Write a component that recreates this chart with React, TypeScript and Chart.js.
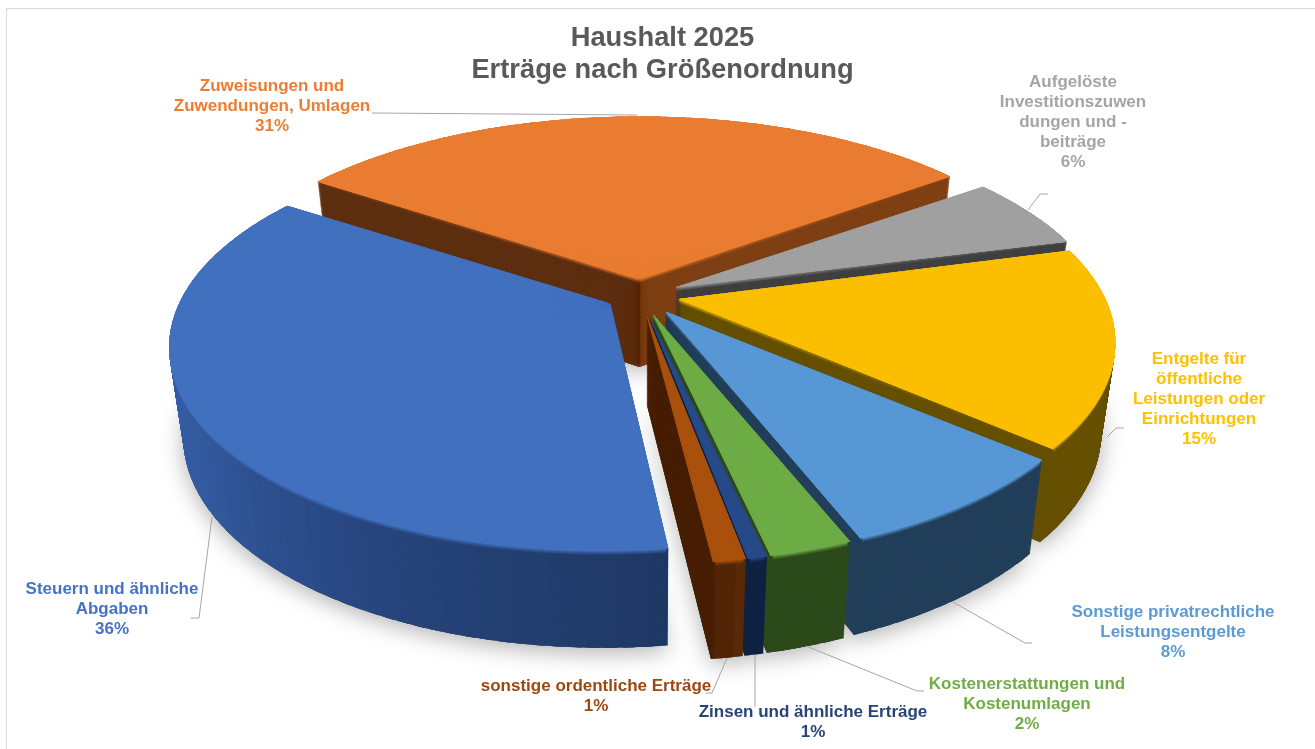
import React, { useEffect, useRef } from "react";
import { Chart, registerables } from "chart.js";

Chart.register(...registerables);

const titleLines = ["Haushalt 2025", "Erträge nach Größenordnung"];
const categories = [
  "Steuern und ähnliche Abgaben",
  "Zuweisungen und Zuwendungen, Umlagen",
  "Aufgelöste Investitionszuwendungen und -beiträge",
  "Entgelte für öffentliche Leistungen oder Einrichtungen",
  "Sonstige privatrechtliche Leistungsentgelte",
  "Kostenerstattungen und Kostenumlagen",
  "Zinsen und ähnliche Erträge",
  "sonstige ordentliche Erträge",
];
const values = [36.14, 30.95, 5.81, 15.44, 7.61, 2.49, 0.58, 0.97];
const labelLines = [
  ["Steuern und ähnliche", "Abgaben"],
  ["Zuweisungen und", "Zuwendungen, Umlagen"],
  ["Aufgelöste", "Investitionszuwen", "dungen und -", "beiträge"],
  ["Entgelte für", "öffentliche", "Leistungen oder", "Einrichtungen"],
  ["Sonstige privatrechtliche", "Leistungsentgelte"],
  ["Kostenerstattungen und", "Kostenumlagen"],
  ["Zinsen und ähnliche Erträge"],
  ["sonstige ordentliche Erträge"],
];

// Styles and layout (not data)
const topColors = ["#4170bf", "#e97c30", "#a0a0a0", "#fbbe00", "#5897d5", "#6dab45", "#264a87", "#a8500c"];
const textColors = ["#4472c4", "#ed7d31", "#a5a5a5", "#ffc000", "#5b9bd5", "#70ad47", "#264478", "#9e480e"];
const sideStops = [
  ["#1f3864", "#28467e", "#335a9f", "#3864ae", "#3864ae"],
  ["#5e2f11", "#5e2f11", "#6e3813", "#7f4115"],
  ["#404040", "#404040"],
  ["#665000", "#665000"],
  ["#223f5a", "#223f5a"],
  ["#2c4a1b", "#2c4a1b"],
  ["#0f2243", "#0f2243"],
  ["#5a2a08", "#5a2a08", "#451e04"],
];
const explosion = [0.08, 0.1, 0.08, 0.07, 0.07, 0.07, 0.07, 0.07];
const radial = [0.985, 1, 1, 1, 1, 1, 1, 1];
const hubShift = [0, -0.02, 0.01, 0.02, 0.03, 0.03, 0.03, 0.03];
const paintOrder = [1, 2, 3, 0, 4, 5, 6, 7];
const labelPos = [
  { x: 112, y: 589.5 },
  { x: 272, y: 86.5 },
  { x: 1073, y: 82.5 },
  { x: 1199, y: 359.5 },
  { x: 1173, y: 612.5 },
  { x: 1027, y: 684.5 },
  { x: 813, y: 712.5 },
  { x: 596, y: 686.5 },
];
const leaders = [
  [[212, 517], [199, 618], [191, 618]],
  [[372, 113], [637, 115]],
  [[1028, 210], [1040, 194], [1048, 194]],
  [[1107, 437], [1116, 428], [1124, 428]],
  [[953, 602], [1025, 643], [1032, 643]],
  [[806, 646], [917, 691], [924, 691]],
  [[755, 655], [755, 707]],
  [[727, 658], [712, 693], [706, 693]],
];

const OX = 5;
const CAM = { cx: 640, cy: 295, sx: 434, sy: 198, p: 0.2 };
const EXT = { vx: 642, sx: 0.03, a: 78, b: 0.034 };
const LAYERS = 100;
const STEP = (2 * Math.PI) / 180;
const CUT = (0.25 * Math.PI) / 180;
const OVERLAP = 0.012;

const project = (u: number, v: number) => {
  const w = 1 - CAM.p * v;
  return [CAM.cx + (CAM.sx * u) / w, CAM.cy + (CAM.sy * v) / w];
};
const extrude = (pt: number[], t: number) => [
  EXT.vx + (pt[0] - EXT.vx) * (1 - EXT.sx * t),
  pt[1] + t * (EXT.a + EXT.b * pt[1]),
];
const hex = (c: string) => [1, 3, 5].map((i) => parseInt(c.slice(i, i + 2), 16));
const mix = (a: number[], b: number[], f: number) => {
  const g = Math.min(1, Math.max(0, f));
  return a.map((x, k) => x + (b[k] - x) * g);
};
const ramp = (stops: string[], f: number) => {
  const pos = Math.min(0.9999, Math.max(0, f)) * (stops.length - 1);
  const i = Math.floor(pos);
  return mix(hex(stops[i]), hex(stops[i + 1]), pos - i);
};
const css = (c: number[]) => `rgb(${Math.round(c[0])},${Math.round(c[1])},${Math.round(c[2])})`;

function buildWedges(el: any, index: number) {
  const s = el.startAngle;
  const e = el.endAngle;
  const mid = (s + e) / 2;
  const ex = explosion[index];
  const rho = radial[index];
  const ou = ex * Math.cos(mid);
  const ov = ex * Math.sin(mid);
  const hub = ex + hubShift[index];
  const apex = project(hub * Math.cos(mid), hub * Math.sin(mid));
  const a = s + CUT;
  const b = e - CUT;
  const n = Math.max(1, Math.ceil((b - a) / STEP));
  const stops = [s];
  for (let k = 0; k <= n; k++) stops.push(a + ((b - a) * k) / n);
  stops.push(e);
  const out: any[] = [];
  for (let k = 0; k < stops.length - 1; k++) {
    const t0 = stops[k];
    const t1 = stops[k + 1];
    const p0 = project(ou + rho * Math.cos(t0), ov + rho * Math.sin(t0));
    const p1 = project(ou + rho * Math.cos(t1), ov + rho * Math.sin(t1));
    out.push({
      k,
      n: stops.length - 1,
      s,
      e,
      t0,
      t1,
      apex,
      p0,
      p1,
      f: ((t0 + t1) / 2 - s) / (e - s),
      sortY: (p0[1] + p1[1]) / 2,
    });
  }
  out.sort((x, y) => x.sortY - y.sortY);
  return out;
}

function drawWedge(ctx: any, el: any, w: any, t: number, color: string) {
  const r = el.outerRadius;
  const A = extrude(w.apex, t);
  const Q0 = extrude(w.p0, t);
  const Q1 = extrude(w.p1, t);
  const d0 = [r * Math.cos(w.t0), r * Math.sin(w.t0)];
  const d1 = [r * Math.cos(w.t1), r * Math.sin(w.t1)];
  const q0 = [Q0[0] - A[0], Q0[1] - A[1]];
  const q1 = [Q1[0] - A[0], Q1[1] - A[1]];
  const det = d0[0] * d1[1] - d1[0] * d0[1];
  const a = (q0[0] * d1[1] - q1[0] * d0[1]) / det;
  const c = (-q0[0] * d1[0] + q1[0] * d0[0]) / det;
  const b = (q0[1] * d1[1] - q1[1] * d0[1]) / det;
  const dd = (-q0[1] * d1[0] + q1[1] * d0[0]) / det;
  ctx.save();
  ctx.transform(a, b, c, dd, A[0] - a * el.x - c * el.y, A[1] - b * el.x - dd * el.y);
  const isEnd = w.k === 0 || w.k === w.n - 1;
  el.startAngle = isEnd ? w.t0 : Math.max(w.s + CUT, w.t0 - OVERLAP);
  el.endAngle = isEnd ? w.t1 : Math.min(w.e - CUT, w.t1 + OVERLAP);
  el.circumference = el.endAngle - el.startAngle;
  el.options = {
    backgroundColor: color,
    borderColor: "transparent",
    borderWidth: 0,
    offset: 0,
    spacing: 0,
    borderRadius: 0,
    circular: true,
    borderAlign: "center",
  };
  el.draw(ctx);
  ctx.restore();
}

const pie3d = {
  id: "pie3d",
  beforeDatasetDraw(chart: any) {
    const ctx = chart.ctx;
    const arcs = chart.getDatasetMeta(0).data;
    const saved = arcs.map((el: any) => ({
      startAngle: el.startAngle,
      endAngle: el.endAngle,
      circumference: el.circumference,
      options: el.options,
    }));
    const wedges = arcs.map((el: any, i: number) => buildWedges(el, i));

    const off = document.createElement("canvas");
    off.width = 1315;
    off.height = 749;
    const octx = off.getContext("2d");
    paintOrder.forEach((i) => {
      wedges[i].forEach((w: any) => drawWedge(octx, arcs[i], w, 1, "#555555"));
    });
    ctx.save();
    ctx.translate(-OX, 0);
    ctx.shadowColor = "rgba(0,0,0,0.3)";
    ctx.shadowBlur = 22;
    ctx.shadowOffsetY = 5;
    ctx.drawImage(off, 0, 0);
    ctx.restore();

    ctx.save();
    ctx.translate(-OX, 0);
    paintOrder.forEach((i) => {
      const el = arcs[i];
      const top = hex(topColors[i]);
      wedges[i].forEach((w: any) => {
        const side = ramp(sideStops[i], w.f);
        const isCut = w.k === 0 || w.k === w.n - 1;
        const rim = i === 0 ? mix(top, hex("#4a7cd8"), (w.f - 0.3) / 0.3) : top;
        for (let l = LAYERS; l >= 1; l--) {
          const t = l / LAYERS;
          const color = t < 0.05 && !isCut ? mix(rim, side, t / 0.05) : side;
          drawWedge(ctx, el, w, t, css(color));
        }
      });
      for (let pass = 0; pass < 3; pass++) {
        wedges[i].forEach((w: any) => drawWedge(ctx, el, w, 0, topColors[i]));
      }
    });
    ctx.restore();

    arcs.forEach((el: any, i: number) => Object.assign(el, saved[i]));
    return false;
  },
  afterDraw(chart: any) {
    const ctx = chart.ctx;
    ctx.save();
    ctx.translate(-OX, 0);
    ctx.strokeStyle = "#d9d9d9";
    ctx.lineWidth = 1;
    ctx.strokeRect(6.5, 8.5, 1400, 800);
    ctx.strokeStyle = "#a6a6a6";
    leaders.forEach((line) => {
      ctx.beginPath();
      line.forEach((p, k) => (k ? ctx.lineTo(p[0], p[1]) : ctx.moveTo(p[0], p[1])));
      ctx.stroke();
    });
    ctx.textAlign = "center";
    ctx.textBaseline = "middle";
    ctx.font = 'bold 17px "Liberation Sans"';
    labelLines.forEach((lines, i) => {
      ctx.fillStyle = textColors[i];
      const all = [...lines, `${Math.round(values[i])}%`];
      all.forEach((txt, k) => ctx.fillText(txt, labelPos[i].x, labelPos[i].y + k * 20));
    });
    ctx.restore();
  },
};

export default function App() {
  const ref = useRef<HTMLCanvasElement | null>(null);
  useEffect(() => {
    const chart = new Chart(ref.current as HTMLCanvasElement, {
      type: "pie",
      data: {
        labels: categories,
        datasets: [{ data: values, backgroundColor: topColors, borderWidth: 0 }],
      },
      options: {
        responsive: false,
        animation: false,
        rotation: 173,
        events: [],
        layout: { padding: 0 },
        plugins: {
          legend: { display: false },
          tooltip: { enabled: false },
          title: {
            display: true,
            text: titleLines,
            color: "#595959",
            font: { family: '"Liberation Sans"', size: 27.3, weight: "bold", lineHeight: 1.15 },
            padding: { top: 23, bottom: 10 },
          },
        },
      },
      plugins: [pie3d],
    } as any);
    return () => chart.destroy();
  }, []);
  return (
    <div style={{ position: "fixed", left: 0, top: 0, width: 1315, height: 749, overflow: "hidden", background: "#fff" }}>
      <canvas ref={ref} width={1315} height={749} style={{ position: "absolute", left: OX, top: 0, display: "block" }} />
    </div>
  );
}
